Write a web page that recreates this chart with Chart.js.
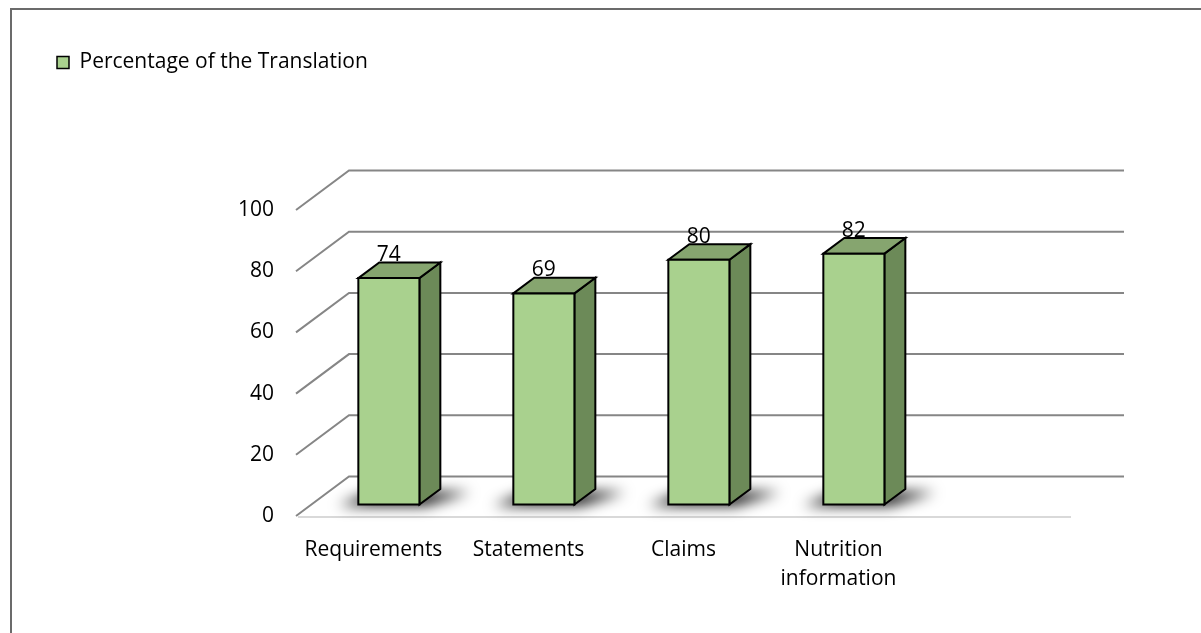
<!DOCTYPE html>
<html><head><meta charset="utf-8">
<script src="https://cdn.jsdelivr.net/npm/chart.js@4/dist/chart.umd.min.js"></script>
<style>html,body{margin:0;padding:0;background:#fff;overflow:hidden}</style>
</head><body>
<canvas id="c" width="1201" height="633"></canvas>
<script>
const categories = ['Requirements', 'Statements', 'Claims', ['Nutrition', 'information'], ''];
const percentages = [74, 69, 80, 82, null];
const yTickValues = [0, 20, 40, 60, 80, 100];
const seriesName = 'Percentage of the Translation';

const DX = 53, DY = -39.5;          // depth of the 3-D floor
const BAR_FRONT = 0.29, BAR_DEPTH = 0.395;
const FRONT = '#a9d18e', TOP = '#86a56f', SIDE = '#6c8a58';

Chart.defaults.font.family = "'Open Sans', sans-serif";
Chart.defaults.font.size = 21;
Chart.defaults.color = '#000';

const threeD = {
  id: 'threeD',
  beforeInit(chart) {
    const lg = chart.legend;
    if (lg) { const f = lg.fit; lg.fit = function () { f.call(this); this.height = 168; }; }
  },
  beforeDraw(chart) {
    const ctx = chart.ctx;
    ctx.save();
    ctx.fillStyle = '#fff'; ctx.fillRect(0, 0, chart.width, chart.height);
    ctx.strokeStyle = '#6b6b6b'; ctx.lineWidth = 2;
    ctx.beginPath(); ctx.moveTo(11, chart.height + 2); ctx.lineTo(11, 9); ctx.lineTo(chart.width + 2, 9); ctx.stroke();
    ctx.restore();
  },
  beforeDatasetsDraw(chart) {
    const { ctx, chartArea: a, scales: { y } } = chart;
    ctx.save();
    ctx.lineWidth = 2; ctx.strokeStyle = '#868686'; ctx.lineCap = 'butt';
    y.ticks.forEach(t => {
      const fy = y.getPixelForValue(t.value);
      ctx.beginPath();
      ctx.moveTo(a.left, fy); ctx.lineTo(a.left + DX, fy + DY); ctx.lineTo(a.right + DX, fy + DY);
      ctx.stroke();
    });
    const y0 = y.getPixelForValue(0);
    ctx.strokeStyle = '#d9d9d9';
    ctx.beginPath(); ctx.moveTo(a.left + 2, y0 + 1); ctx.lineTo(a.right, y0 + 1); ctx.stroke();
    ctx.restore();
    return false;
  },
  afterDraw(chart) {
    const ctx = chart.ctx;
    const meta = chart.getDatasetMeta(0);
    const ox = BAR_FRONT * DX, oy = BAR_FRONT * DY;
    const bx = BAR_DEPTH * DX, by = BAR_DEPTH * DY;
    const boxes = [];
    meta.data.forEach((el, i) => {
      const v = percentages[i];
      if (v == null) return;
      const p = el.getProps(['x', 'y', 'base', 'width'], true);
      boxes.push({ v, x0: p.x - p.width / 2 + ox, x1: p.x + p.width / 2 + ox, yt: p.y + oy, yb: p.base + oy });
    });
    // shadows
    boxes.forEach(b => {
      ctx.save();
      ctx.filter = 'blur(7px)';
      ctx.fillStyle = 'rgba(0,0,0,0.95)';
      ctx.beginPath();
      ctx.moveTo(b.x0 - 20, b.yb + 1); ctx.lineTo(b.x1 + 6, b.yb + 1);
      ctx.lineTo(b.x1 + bx + 30, b.yb + by + 3); ctx.lineTo(b.x0 + bx - 6, b.yb + by + 3);
      ctx.closePath(); ctx.fill();
      ctx.restore();
    });
    boxes.forEach(b => {
      ctx.save();
      ctx.lineWidth = 2; ctx.strokeStyle = '#000'; ctx.lineJoin = 'miter';
      // side
      ctx.beginPath();
      ctx.moveTo(b.x1, b.yt); ctx.lineTo(b.x1 + bx, b.yt + by); ctx.lineTo(b.x1 + bx, b.yb + by); ctx.lineTo(b.x1, b.yb);
      ctx.closePath(); ctx.fillStyle = SIDE; ctx.fill(); ctx.stroke();
      // top
      ctx.beginPath();
      ctx.moveTo(b.x0, b.yt); ctx.lineTo(b.x0 + bx, b.yt + by); ctx.lineTo(b.x1 + bx, b.yt + by); ctx.lineTo(b.x1, b.yt);
      ctx.closePath(); ctx.fillStyle = TOP; ctx.fill(); ctx.stroke();
      // front
      ctx.beginPath(); ctx.rect(b.x0, b.yt, b.x1 - b.x0, b.yb - b.yt);
      ctx.fillStyle = FRONT; ctx.fill(); ctx.stroke();
      // value label
      ctx.fillStyle = '#000';
      ctx.font = "21px 'Open Sans', sans-serif";
      ctx.textAlign = 'center'; ctx.textBaseline = 'alphabetic';
      ctx.fillText(String(b.v), (b.x0 + b.x1) / 2, b.yt - 17);
      ctx.restore();
    });
  }
};

new Chart(document.getElementById('c'), {
  type: 'bar',
  data: {
    labels: categories,
    datasets: [{
      label: seriesName,
      data: percentages,
      backgroundColor: FRONT,
      borderColor: '#000',
      borderWidth: 1.5,
      categoryPercentage: 1,
      barPercentage: 0.394
    }]
  },
  options: {
    responsive: false,
    animation: false,
    devicePixelRatio: 1,
    layout: { padding: { left: 47, top: 42, right: 130, bottom: 0 } },
    plugins: {
      legend: {
        position: 'top', align: 'start',
        labels: { boxWidth: 12, boxHeight: 12, padding: 10, font: { size: 21 }, color: '#000' }
      },
      tooltip: { enabled: false }
    },
    scales: {
      x: {
        grid: { display: false }, border: { display: false },
        ticks: { padding: 12, maxRotation: 0, autoSkip: false, font: { size: 21, lineHeight: 1.38 } },
        afterFit(s) { s.height = 117; }
      },
      y: {
        min: 0, max: 100,
        grid: { display: false }, border: { display: false },
        ticks: { padding: 14, font: { size: 21 } },
        afterBuildTicks(s) { s.ticks = yTickValues.map(v => ({ value: v })); },
        afterFit(s) { s.width = 249; }
      }
    }
  },
  plugins: [threeD]
});
</script>
</body></html>
